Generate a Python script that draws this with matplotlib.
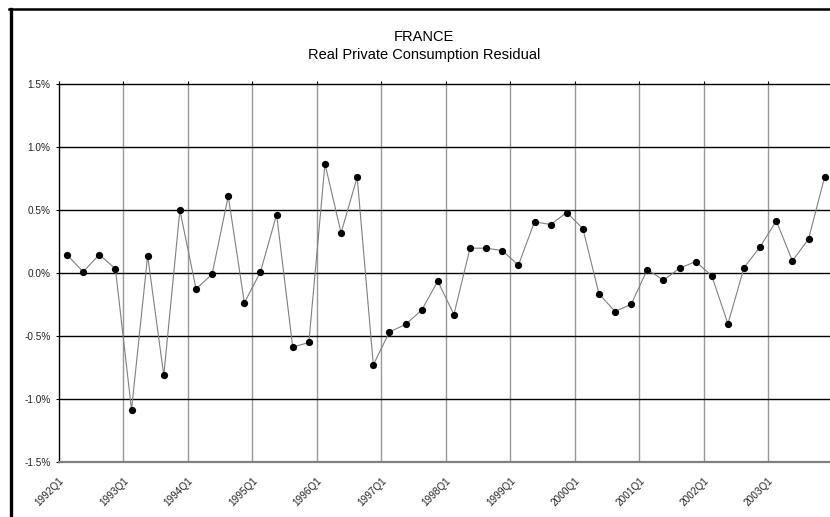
import numpy as np
import matplotlib
matplotlib.use("Agg")
import matplotlib.pyplot as plt
from matplotlib.ticker import FuncFormatter, FixedLocator
from matplotlib.lines import Line2D
import matplotlib.transforms as mtransforms

title = "FRANCE"
subtitle = "Real Private Consumption Residual"

years = list(range(1992, 2004))
quarters = [f"{y}Q{q}" for y in years for q in range(1, 5)]

# residual, in percent
residual = [
    0.143, 0.008, 0.145, 0.032,
    -1.088, 0.137, -0.815, 0.498,
    -0.127, -0.011, 0.609, -0.238,
    0.008, 0.463, -0.590, -0.553,
    0.866, 0.318, 0.760, -0.731,
    -0.469, -0.410, -0.296, -0.066,
    -0.331, 0.196, 0.196, 0.177,
    0.061, 0.405, 0.384, 0.479,
    0.352, -0.167, -0.307, -0.249,
    0.026, -0.058, 0.037, 0.090,
    -0.024, -0.405, 0.042, 0.207,
    0.413, 0.095, 0.268, 0.762,
]
yticks = [-1.5, -1.0, -0.5, 0.0, 0.5, 1.0, 1.5]

plt.rcParams['font.family'] = ['Liberation Sans', 'DejaVu Sans']

W, H = 830, 517
fig = plt.figure(figsize=(W / 100, H / 100), dpi=100)
fig.patch.set_facecolor('white')

left, right, top, bottom = 59, 832.7, 84, 461.7
ax = fig.add_axes([left / W, 1 - bottom / H, (right - left) / W, (bottom - top) / H])

x = np.arange(len(quarters))
ax.plot(x, residual, color='#808080', lw=0.8, zorder=3)
ax.plot(x, residual, 'o', color='black', ms=4.2, zorder=4)

ax.set_xlim(-0.5, len(quarters) - 0.5)
ax.set_ylim(yticks[0], yticks[-1])

# horizontal gridlines
for v in yticks[1:-1]:
    ax.axhline(v, color='black', lw=1.0, zorder=2)

# vertical gridlines at year boundaries
year_idx = [i for i, q in enumerate(quarters) if q.endswith('Q1')]
for i in year_idx[1:]:
    ax.axvline(i - 0.5, color='#999999', lw=1.0, zorder=1)

ax.yaxis.set_major_locator(FixedLocator(yticks))
ax.yaxis.set_major_formatter(FuncFormatter(lambda v, p: f"{v:.1f}%"))
ax.tick_params(axis='y', direction='out', length=2, width=0.8, pad=4,
               labelsize=7.2, colors='black', labelcolor='#222222')

ax.set_xticks([i - 0.5 for i in year_idx])
ax.set_xticklabels([quarters[i] for i in year_idx], rotation=45, ha='right',
                   va='center', rotation_mode='anchor', fontsize=7.2, color='#222222')
ax.tick_params(axis='x', which='major', bottom=False, top=True, direction='out',
               length=2.5, width=0.8, pad=10, labelbottom=True)
offset = mtransforms.ScaledTranslation(3.5 / 100, 0, fig.dpi_scale_trans)
for lab in ax.get_xticklabels():
    lab.set_transform(lab.get_transform() + offset)

for s in ['left', 'top']:
    ax.spines[s].set_color('black')
    ax.spines[s].set_linewidth(1.0)
ax.spines['bottom'].set_color('#808080')
ax.spines['bottom'].set_linewidth(1.6)
ax.spines['right'].set_visible(False)

fig.text(424 / W, 1 - 36.7 / H, title, ha='center', va='center', fontsize=10.5, color='black')
fig.text(424 / W, 1 - 55 / H, subtitle, ha='center', va='center', fontsize=10.5, color='black')

# outer frame (left and top edges visible)
fig.add_artist(Line2D([10.5 / W, 10.5 / W], [0, 1 - 8.5 / H], transform=fig.transFigure,
                      color='black', lw=2.4))
fig.add_artist(Line2D([9.3 / W, 1], [1 - 8.5 / H, 1 - 8.5 / H], transform=fig.transFigure,
                      color='black', lw=1.8))

fig.savefig('out.png', dpi=100, facecolor='white')
